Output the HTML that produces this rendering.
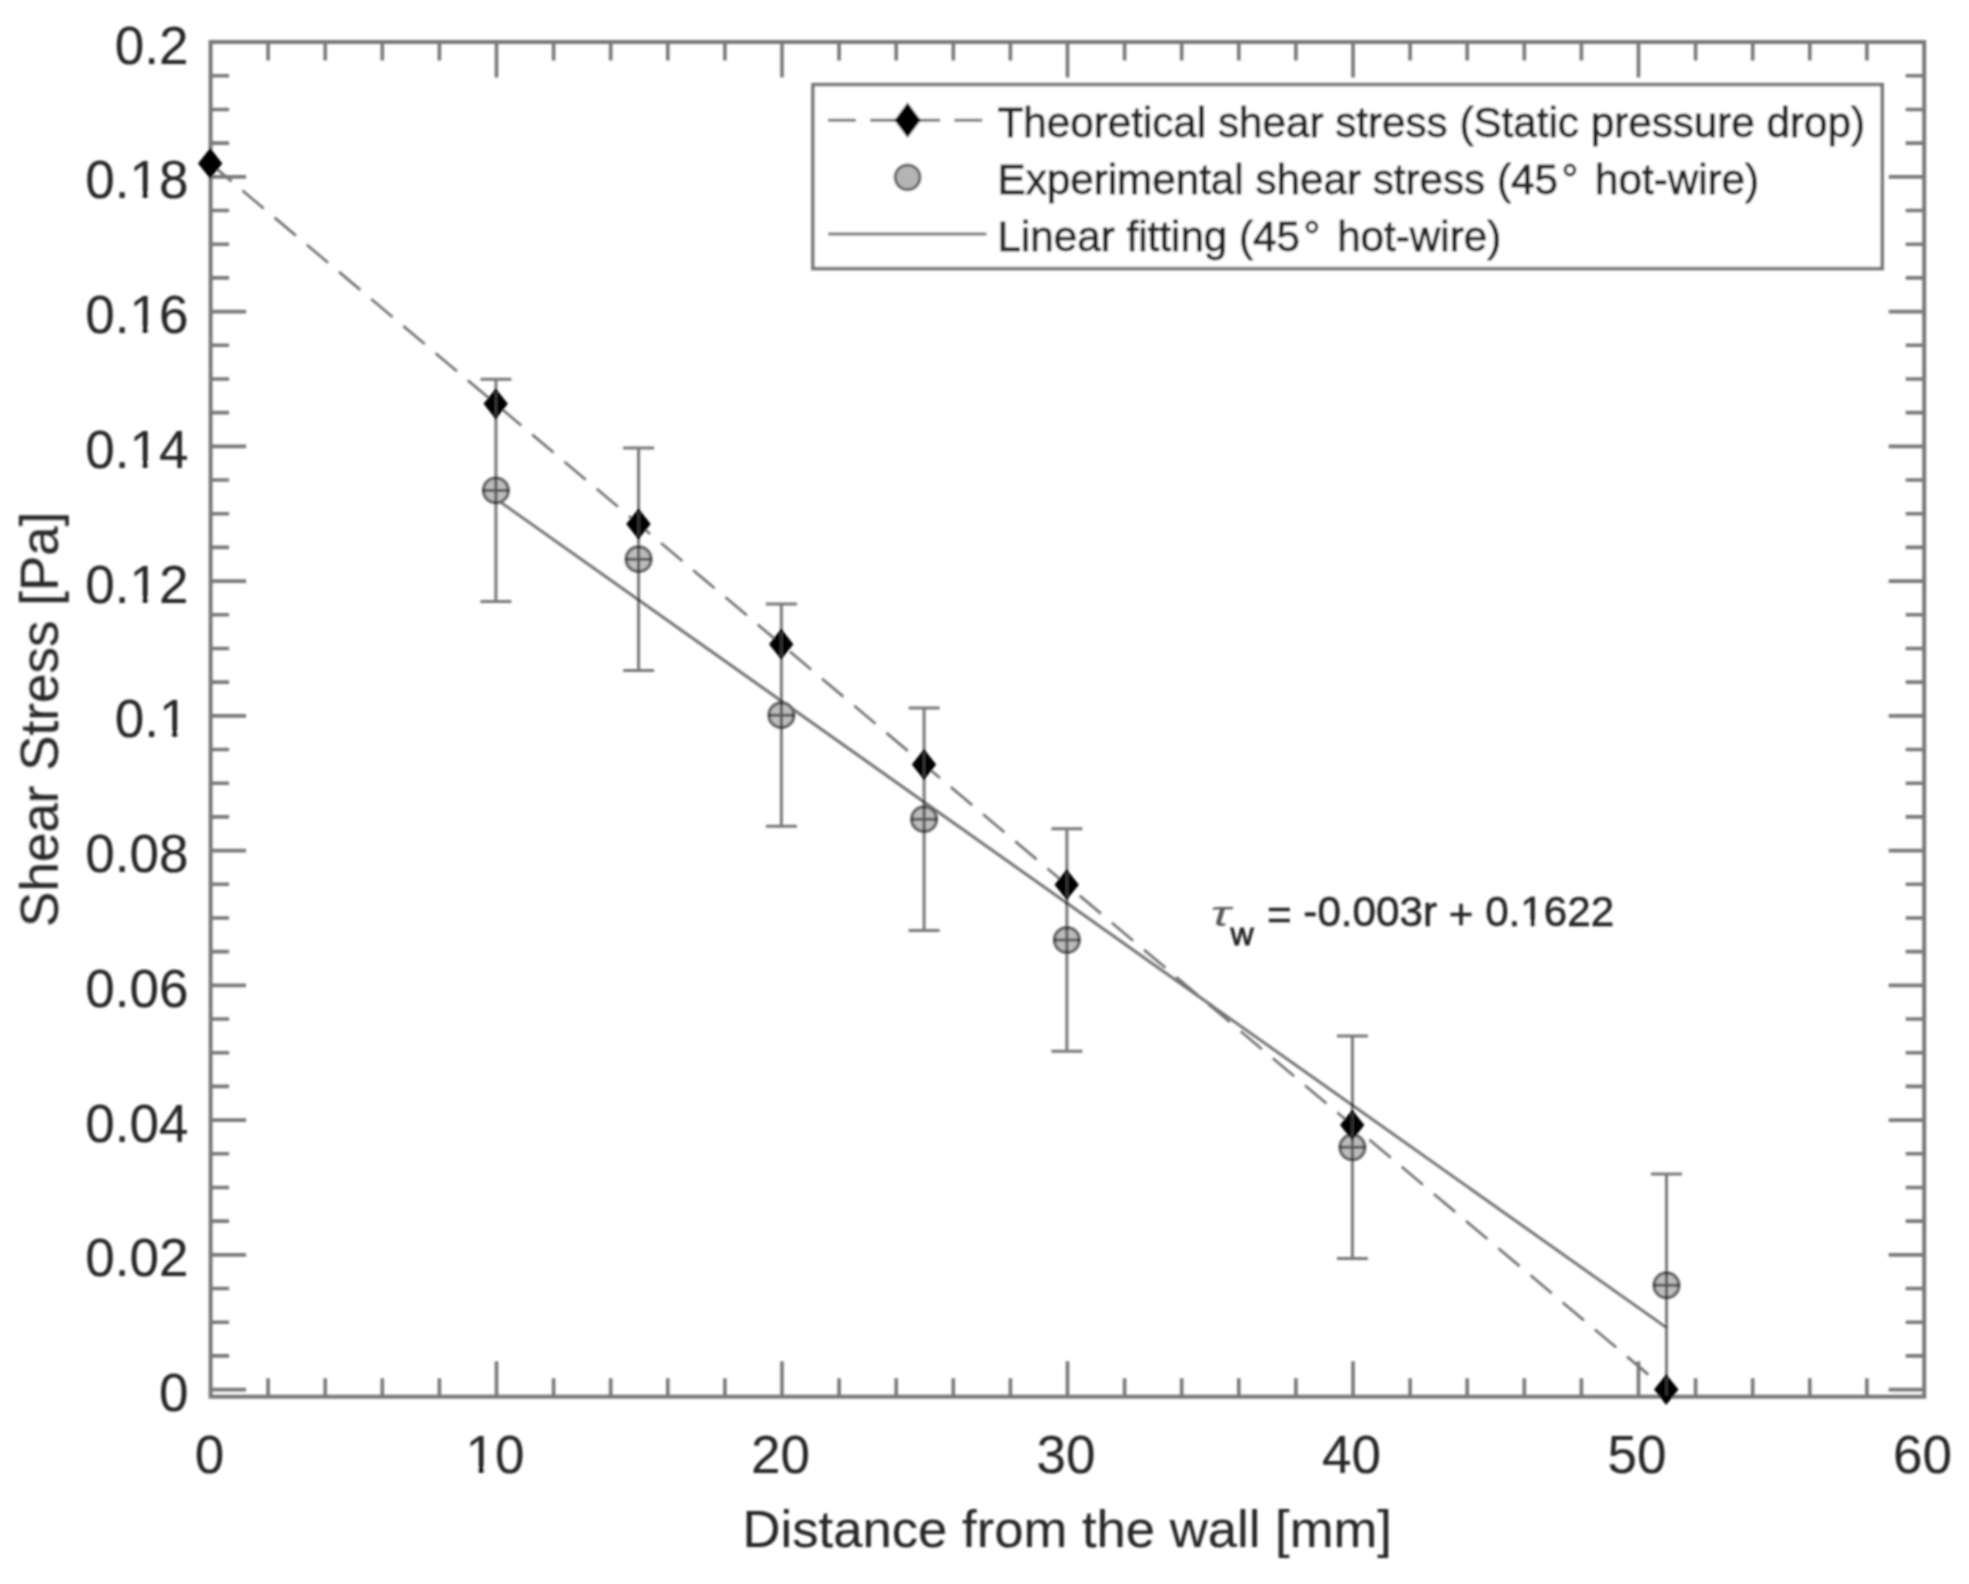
<!DOCTYPE html>
<html><head><meta charset="utf-8"><title>Shear stress vs distance from the wall</title>
<style>html,body{margin:0;padding:0;background:#fff}text{stroke:#262626;stroke-width:0.12px;stroke-linejoin:round}.s{stroke:#1c1c1c;stroke-width:0.85px}body{width:1969px;height:1584px;overflow:hidden}</style></head>
<body>
<svg width="1969" height="1584" viewBox="0 0 1969 1584" style="display:block;font-family:'Liberation Sans',Arial,Helvetica,sans-serif">
<defs><filter id="soft" x="0" y="0" width="1969" height="1584" filterUnits="userSpaceOnUse"><feGaussianBlur stdDeviation="0.8"/></filter></defs>
<rect width="1969" height="1584" fill="#fff"/>
<g filter="url(#soft)">
<path d="M268.10 1396.7v-18.5M268.10 42.0v18.5M325.20 1396.7v-18.5M325.20 42.0v18.5M382.30 1396.7v-18.5M382.30 42.0v18.5M439.40 1396.7v-18.5M439.40 42.0v18.5M496.50 1396.7v-35.5M496.50 42.0v35.5M553.60 1396.7v-18.5M553.60 42.0v18.5M610.70 1396.7v-18.5M610.70 42.0v18.5M667.80 1396.7v-18.5M667.80 42.0v18.5M724.90 1396.7v-18.5M724.90 42.0v18.5M782.00 1396.7v-35.5M782.00 42.0v35.5M839.10 1396.7v-18.5M839.10 42.0v18.5M896.20 1396.7v-18.5M896.20 42.0v18.5M953.30 1396.7v-18.5M953.30 42.0v18.5M1010.40 1396.7v-18.5M1010.40 42.0v18.5M1067.50 1396.7v-35.5M1067.50 42.0v35.5M1124.60 1396.7v-18.5M1124.60 42.0v18.5M1181.70 1396.7v-18.5M1181.70 42.0v18.5M1238.80 1396.7v-18.5M1238.80 42.0v18.5M1295.90 1396.7v-18.5M1295.90 42.0v18.5M1353.00 1396.7v-35.5M1353.00 42.0v35.5M1410.10 1396.7v-18.5M1410.10 42.0v18.5M1467.20 1396.7v-18.5M1467.20 42.0v18.5M1524.30 1396.7v-18.5M1524.30 42.0v18.5M1581.40 1396.7v-18.5M1581.40 42.0v18.5M1638.50 1396.7v-35.5M1638.50 42.0v35.5M1695.60 1396.7v-18.5M1695.60 42.0v18.5M1752.70 1396.7v-18.5M1752.70 42.0v18.5M1809.80 1396.7v-18.5M1809.80 42.0v18.5M1866.90 1396.7v-18.5M1866.90 42.0v18.5M210.6 1389.60h35.5M1924.2 1389.60h-35.5M210.6 1355.91h18.5M1924.2 1355.91h-18.5M210.6 1322.22h18.5M1924.2 1322.22h-18.5M210.6 1288.54h18.5M1924.2 1288.54h-18.5M210.6 1254.85h35.5M1924.2 1254.85h-35.5M210.6 1221.16h18.5M1924.2 1221.16h-18.5M210.6 1187.47h18.5M1924.2 1187.47h-18.5M210.6 1153.79h18.5M1924.2 1153.79h-18.5M210.6 1120.10h35.5M1924.2 1120.10h-35.5M210.6 1086.41h18.5M1924.2 1086.41h-18.5M210.6 1052.72h18.5M1924.2 1052.72h-18.5M210.6 1019.04h18.5M1924.2 1019.04h-18.5M210.6 985.35h35.5M1924.2 985.35h-35.5M210.6 951.66h18.5M1924.2 951.66h-18.5M210.6 917.97h18.5M1924.2 917.97h-18.5M210.6 884.29h18.5M1924.2 884.29h-18.5M210.6 850.60h35.5M1924.2 850.60h-35.5M210.6 816.91h18.5M1924.2 816.91h-18.5M210.6 783.22h18.5M1924.2 783.22h-18.5M210.6 749.54h18.5M1924.2 749.54h-18.5M210.6 715.85h35.5M1924.2 715.85h-35.5M210.6 682.16h18.5M1924.2 682.16h-18.5M210.6 648.47h18.5M1924.2 648.47h-18.5M210.6 614.79h18.5M1924.2 614.79h-18.5M210.6 581.10h35.5M1924.2 581.10h-35.5M210.6 547.41h18.5M1924.2 547.41h-18.5M210.6 513.72h18.5M1924.2 513.72h-18.5M210.6 480.04h18.5M1924.2 480.04h-18.5M210.6 446.35h35.5M1924.2 446.35h-35.5M210.6 412.66h18.5M1924.2 412.66h-18.5M210.6 378.97h18.5M1924.2 378.97h-18.5M210.6 345.29h18.5M1924.2 345.29h-18.5M210.6 311.60h35.5M1924.2 311.60h-35.5M210.6 277.91h18.5M1924.2 277.91h-18.5M210.6 244.22h18.5M1924.2 244.22h-18.5M210.6 210.54h18.5M1924.2 210.54h-18.5M210.6 176.85h35.5M1924.2 176.85h-35.5M210.6 143.16h18.5M1924.2 143.16h-18.5M210.6 109.47h18.5M1924.2 109.47h-18.5M210.6 75.79h18.5M1924.2 75.79h-18.5" stroke="#787878" stroke-width="3.6" fill="none"/>
<rect x="210.6" y="42.0" width="1713.6000000000001" height="1354.7" fill="none" stroke="#787878" stroke-width="4.0"/>
<text x="188.5" y="1411.1" font-size="53" fill="#262626" text-anchor="end">0</text>
<text x="188.5" y="1276.3" font-size="53" fill="#262626" text-anchor="end">0.02</text>
<text x="188.5" y="1141.6" font-size="53" fill="#262626" text-anchor="end">0.04</text>
<text x="188.5" y="1006.8" font-size="53" fill="#262626" text-anchor="end">0.06</text>
<text x="188.5" y="872.1" font-size="53" fill="#262626" text-anchor="end">0.08</text>
<text x="188.5" y="737.3" font-size="53" fill="#262626" text-anchor="end">0.1</text>
<text x="188.5" y="602.6" font-size="53" fill="#262626" text-anchor="end">0.12</text>
<text x="188.5" y="467.8" font-size="53" fill="#262626" text-anchor="end">0.14</text>
<text x="188.5" y="333.1" font-size="53" fill="#262626" text-anchor="end">0.16</text>
<text x="188.5" y="198.3" font-size="53" fill="#262626" text-anchor="end">0.18</text>
<text x="188.5" y="63.6" font-size="53" fill="#262626" text-anchor="end">0.2</text>
<text x="209.5" y="1472.9" font-size="53" fill="#262626" text-anchor="middle">0</text>
<text x="495.0" y="1472.9" font-size="53" fill="#262626" text-anchor="middle">10</text>
<text x="780.5" y="1472.9" font-size="53" fill="#262626" text-anchor="middle">20</text>
<text x="1066.0" y="1472.9" font-size="53" fill="#262626" text-anchor="middle">30</text>
<text x="1351.5" y="1472.9" font-size="53" fill="#262626" text-anchor="middle">40</text>
<text x="1637.0" y="1472.9" font-size="53" fill="#262626" text-anchor="middle">50</text>
<text x="1922.5" y="1472.9" font-size="53" fill="#262626" text-anchor="middle">60</text>
<text x="1067.3" y="1546.7" font-size="52.65" fill="#262626" text-anchor="middle">Distance from the wall [mm]</text>
<text transform="translate(57.8,719.3) rotate(-90)" font-size="53" fill="#262626" text-anchor="middle">Shear Stress [Pa]</text>
<line x1="495.9" y1="498.9" x2="1666.5" y2="1327.6" stroke="#747474" stroke-width="3"/>
<line x1="210.2" y1="163.4" x2="1666.2" y2="1389.6" stroke="#747474" stroke-width="2.7" stroke-dasharray="27.9 14.2"/>
<circle cx="495.9" cy="490.4" r="12.4" fill="#bcbcbc" stroke="#666" stroke-width="3.2"/>
<path d="M495.9 379.2V601.6M480.4 379.2h31M480.4 601.6h31M482.9 490.4h26" stroke="#000" stroke-opacity="0.53" stroke-width="3" fill="none"/>
<circle cx="638.6" cy="559.2" r="12.4" fill="#bcbcbc" stroke="#666" stroke-width="3.2"/>
<path d="M638.6 448.0V670.4M623.1 448.0h31M623.1 670.4h31M625.6 559.2h26" stroke="#000" stroke-opacity="0.53" stroke-width="3" fill="none"/>
<circle cx="781.4" cy="715.2" r="12.4" fill="#bcbcbc" stroke="#666" stroke-width="3.2"/>
<path d="M781.4 604.0V826.3M765.9 604.0h31M765.9 826.3h31M768.4 715.2h26" stroke="#000" stroke-opacity="0.53" stroke-width="3" fill="none"/>
<circle cx="924.1" cy="819.2" r="12.4" fill="#bcbcbc" stroke="#666" stroke-width="3.2"/>
<path d="M924.1 708.0V930.4M908.6 708.0h31M908.6 930.4h31M911.1 819.2h26" stroke="#000" stroke-opacity="0.53" stroke-width="3" fill="none"/>
<circle cx="1066.9" cy="940.0" r="12.4" fill="#bcbcbc" stroke="#666" stroke-width="3.2"/>
<path d="M1066.9 828.8V1051.2M1051.4 828.8h31M1051.4 1051.2h31M1053.9 940.0h26" stroke="#000" stroke-opacity="0.53" stroke-width="3" fill="none"/>
<circle cx="1352.4" cy="1147.3" r="12.4" fill="#bcbcbc" stroke="#666" stroke-width="3.2"/>
<path d="M1352.4 1036.1V1258.4M1336.9 1036.1h31M1336.9 1258.4h31M1339.4 1147.3h26" stroke="#000" stroke-opacity="0.53" stroke-width="3" fill="none"/>
<circle cx="1666.5" cy="1285.3" r="12.4" fill="#bcbcbc" stroke="#666" stroke-width="3.2"/>
<path d="M1666.5 1174.1V1396.5M1651.0 1174.1h31M1653.5 1285.3h26" stroke="#000" stroke-opacity="0.53" stroke-width="3" fill="none"/>
<path d="M210.2 148.0L222.4 163.4L210.2 178.8L198.0 163.4Z" fill="#000"/>
<path d="M495.7 388.4L507.9 403.8L495.7 419.2L483.5 403.8Z" fill="#000"/>
<line x1="495.9" y1="391.8" x2="495.9" y2="415.8" stroke="#3a3a3a" stroke-width="2.4"/>
<path d="M638.5 508.6L650.7 524.0L638.5 539.4L626.2 524.0Z" fill="#000"/>
<line x1="638.6" y1="512.0" x2="638.6" y2="536.0" stroke="#3a3a3a" stroke-width="2.4"/>
<path d="M781.2 628.8L793.4 644.2L781.2 659.6L769.0 644.2Z" fill="#000"/>
<line x1="781.4" y1="632.2" x2="781.4" y2="656.2" stroke="#3a3a3a" stroke-width="2.4"/>
<path d="M924.0 749.1L936.2 764.5L924.0 779.9L911.8 764.5Z" fill="#000"/>
<line x1="924.1" y1="752.5" x2="924.1" y2="776.5" stroke="#3a3a3a" stroke-width="2.4"/>
<path d="M1066.7 869.3L1078.9 884.7L1066.7 900.1L1054.5 884.7Z" fill="#000"/>
<line x1="1066.9" y1="872.7" x2="1066.9" y2="896.7" stroke="#3a3a3a" stroke-width="2.4"/>
<path d="M1352.2 1109.7L1364.4 1125.1L1352.2 1140.5L1340.0 1125.1Z" fill="#000"/>
<line x1="1352.4" y1="1113.1" x2="1352.4" y2="1137.1" stroke="#3a3a3a" stroke-width="2.4"/>
<path d="M1666.2 1374.2L1678.5 1389.6L1666.2 1405.0L1654.0 1389.6Z" fill="#000"/>
<line x1="1666.5" y1="1377.6" x2="1666.5" y2="1395.6" stroke="#3a3a3a" stroke-width="2.4"/>
<rect x="812.9" y="84.6" width="1069.3" height="184.0" fill="#fff" stroke="#787878" stroke-width="3.6"/>
<line x1="828" y1="120.2" x2="985" y2="120.2" stroke="#747474" stroke-width="3" stroke-dasharray="27.9 14.2"/>
<path d="M907.6 102.6L920.8 120.2L907.6 137.8L894.4 120.2Z" fill="#000"/>
<circle cx="907.6" cy="177.3" r="12.4" fill="#b4b4b4" stroke="#666" stroke-width="3"/>
<line x1="828" y1="234" x2="986.5" y2="234" stroke="#747474" stroke-width="3"/>
<text x="997.5" y="137" class="s" font-size="42.2" fill="#262626">Theoretical shear stress (Static pressure drop)</text>
<text x="997.5" y="194" class="s" font-size="42.2" fill="#262626" xml:space="preserve">Experimental shear stress (45<tspan dx="3.5">°</tspan><tspan dx="5"> hot-wire)</tspan></text>
<text x="997.5" y="251" class="s" font-size="42.2" fill="#262626" xml:space="preserve">Linear fitting (45<tspan dx="3.5">°</tspan><tspan dx="5"> hot-wire)</tspan></text>
<text transform="translate(1210.5,925.5) scale(1.5,1)" font-size="36" fill="#585858" font-style="italic" style="stroke:none">τ</text>
<text class="s" x="1230.5" y="945" font-size="32" fill="#262626">w</text>
<text x="1267" y="925.5" class="s" style="stroke-width:0.5px" font-size="42.2" fill="#262626"><tspan dy="3.4">=</tspan><tspan dy="-3.4"> -0.003r </tspan><tspan dy="3.8">+</tspan><tspan dy="-3.8"> 0.1622</tspan></text>
<path d="M161.12 731.61h10.60v7.70h-10.60zM177.60 731.61h9.80v7.70h-9.80zM131.65 596.91h10.60v7.70h-10.60zM148.13 596.91h9.80v7.70h-9.80zM131.65 462.11h10.60v7.70h-10.60zM148.13 462.11h9.80v7.70h-9.80zM131.65 327.41h10.60v7.70h-10.60zM148.13 327.41h9.80v7.70h-9.80zM131.65 192.61h10.60v7.70h-10.60zM148.13 192.61h9.80v7.70h-9.80zM467.64 1467.21h10.60v7.70h-10.60zM484.13 1467.21h9.80v7.70h-9.80zM1521.98 920.86h8.44v6.45h-8.44zM1535.11 920.86h7.81v6.45h-7.81z" fill="#fff"/>
</g></svg>
</body></html>
